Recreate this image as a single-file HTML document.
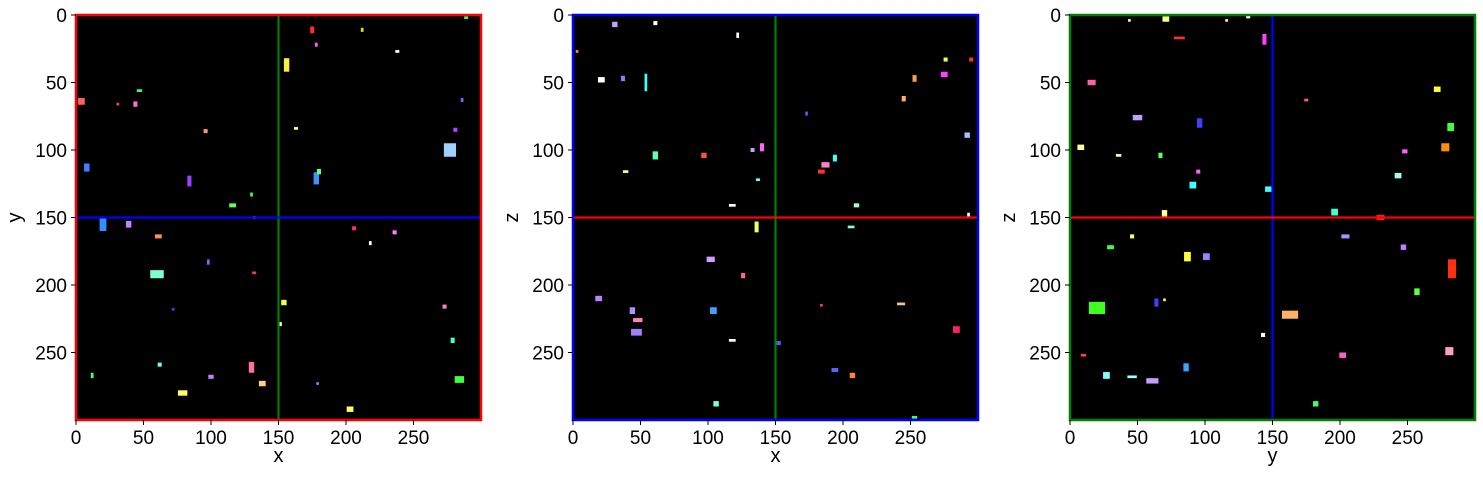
<!DOCTYPE html>
<html><head><meta charset="utf-8"><style>
html,body{margin:0;padding:0;background:#fff;width:1483px;height:477px;overflow:hidden}
svg{display:block;font-family:"Liberation Sans",sans-serif}
</style></head><body>
<svg id="fig" width="1483" height="477" viewBox="0 0 1483 477"></svg>
<script>
const ticks=[0,50,100,150,200,250];
const tickLabels=["0","50","100","150","200","250"];
const panelXLabels=["x","x","y"];
const panelYLabels=["y","z","z"];
const frameColors=["#ff0000","#0000ff","#008000"];
const vLineColors=["#008000","#008000","#0000ff"];
const hLineColors=["#0000ff","#ff0000","#ff0000"];
const crossV=[150,150,150];
const crossH=[150,150,150];
const p1X=[175,156,178,212,238,289,4,44,31,47,96,8,84,116,130,163,178,180,277,286,281,20,39,61,60,98,132,132,154,151,206,218,236,273,279,284,12,62,79,100,130,138,179,203,72];
const p1Y=[11,37,22,11,27,2,64,66,66,56,86,113,123,141,133,84,121,116,100,63,85,155,155,164,192,183,150,191,213,229,158,169,161,216,241,270,267,259,280,268,261,273,273,292,218];
const p1W=[3,4,2,2,3,3,5,3,2,4,3,4,3,5,2,3,4,3,9,2,3,5,4,5,10,2,2,3,4,3,3,2,3,3,3,7,2,3,7,4,4,5,2,5,2];
const p1H=[5,10,3,3,2,2,5,4,2,2,3,6,8,3,3,2,9,4,10,3,3,10,5,3,6,4,2,2,4,3,3,3,3,3,4,5,4,3,4,3,8,4,2,4,2];
const p1C=["#ff3030","#f5f040","#ff60ff","#e0e000","#ffffff","#30ff60","#ff6060","#ff70c0","#ff4060","#40ff60","#ff9080","#4080ff","#a040ff","#60ff60","#40ff40","#ffff80","#4090ff","#60ff80","#a0d0ff","#8060ff","#c040ff","#3090ff","#c080ff","#ff9060","#80ffd0","#8060ff","#ff60a0","#ff3060","#f0ff40","#ffffa0","#ff3060","#ffffff","#ff80ff","#ff80c0","#40ffd0","#40ff40","#40ff80","#60ffff","#ffff60","#c080ff","#ff70a0","#ffd080","#8080ff","#ffff60","#4040ff"];
const p2X=[31,61,3,21,37,54,122,253,275,295,276,245,173,292,61,97,133,140,187,194,184,137,39,118,210,293,136,206,102,126,19,44,48,47,104,118,152,184,243,284,194,207,106,253];
const p2Y=[7,6,27,48,47,50,15,47,44,33,33,62,73,89,104,104,100,98,111,106,116,122,116,141,141,148,157,157,181,193,210,219,226,235,219,241,243,215,214,233,263,267,288,298];
const p2W=[4,3,2,5,3,2,2,3,5,3,3,3,2,4,4,4,3,3,6,3,5,3,4,5,4,2,3,5,6,3,5,4,7,8,5,5,4,2,6,5,5,4,4,4];
const p2H=[4,3,2,4,4,13,4,5,4,3,3,4,3,4,6,4,3,6,4,5,3,2,2,2,3,3,8,2,4,4,4,5,3,5,5,2,3,2,2,5,3,4,4,2];
const p2C=["#c0a0ff","#ffffff","#ff8080","#ffffff","#8080ff","#40ffff","#ffffff","#ffa040","#ff40ff","#ff3030","#f0ff40","#ffb060","#4060ff","#a0c0ff","#60ffb0","#ff5040","#c0a0ff","#ff60ff","#ff80c0","#40ffff","#ff3030","#60ffff","#ffff80","#ffffff","#a0ffd0","#ffffff","#f0ff60","#80ffd0","#d0a0ff","#ff60a0","#c080ff","#b090ff","#ff80c0","#a080ff","#40a0ff","#ffffff","#4060ff","#ff4040","#ffc080","#ff2060","#6060ff","#ff8040","#80ffd0","#40ff60"];
const p3X=[44,71,81,116,132,144,16,50,96,175,272,282,278,248,243,8,36,67,91,95,70,147,196,230,30,46,87,101,204,247,283,257,20,64,70,163,143,46,27,61,86,202,281,182,10];
const p3Y=[4,3,17,4,1,18,50,76,80,63,55,83,98,101,119,98,104,104,126,116,147,129,146,150,172,164,179,179,164,172,188,205,217,213,211,222,237,268,267,271,261,252,249,288,252];
const p3W=[2,5,8,2,3,3,6,7,4,3,5,5,6,4,5,5,4,3,5,3,4,5,5,6,5,3,5,5,6,4,6,4,12,3,2,12,3,7,5,9,4,5,6,4,4];
const p3H=[2,4,2,2,3,8,4,4,7,2,4,6,6,3,4,4,2,4,5,3,5,4,5,4,3,3,7,5,3,4,14,5,9,6,2,6,3,2,5,4,6,4,6,4,2];
const p3C=["#ffff60","#ffff80","#ff3030","#ffff60","#ffffff","#ff40ff","#ff60a0","#c0a0ff","#4040ff","#ff6060","#ffff40","#40ff40","#ff9000","#ff60ff","#a0fff0","#ffffa0","#ffffa0","#60ff60","#40ffff","#ff60ff","#ffffa0","#40ffff","#40ffd0","#ff2020","#40ff40","#ffff60","#ffff40","#a080ff","#b090ff","#c080ff","#ff3010","#60ff40","#40ff20","#4040ff","#ffff40","#ffb060","#ffffff","#a0ffff","#80ffff","#c0a0ff","#40a0ff","#ff60d0","#ffa0c0","#40ff60","#ff4040"];
const panels=[[p1X,p1Y,p1W,p1H,p1C],[p2X,p2Y,p2W,p2H,p2C],[p3X,p3Y,p3W,p3H,p3C]];
const lefts=[76,573,1070], TOP0=15, SIZE=405, NMAX=300;
const NS="http://www.w3.org/2000/svg", svgEl=document.getElementById('fig');
function mk(t,a,p){const e=document.createElementNS(NS,t);for(const k in a)e.setAttribute(k,a[k]);(p||svgEl).appendChild(e);return e;}
panels.forEach((P,i)=>{
  const L=lefts[i];
  const sx=v=>L+v*SIZE/NMAX, sy=v=>TOP0+v*SIZE/NMAX;
  const g=mk('g',{});
  
  
  const bg=mk('rect',{x:L,y:TOP0,width:SIZE,height:SIZE,fill:'#000'},g);
  
  
  for(let j=0;j<P[0].length;j++){
    const r=mk('rect',{x:sx(P[0][j]-P[2][j]/2),y:sy(P[1][j]-P[3][j]/2),width:P[2][j]*SIZE/NMAX,height:P[3][j]*SIZE/NMAX,fill:P[4][j]},g);
    
    
  }
  const v=mk('line',{x1:sx(crossV[i]),x2:sx(crossV[i]),y1:TOP0,y2:TOP0+SIZE,stroke:vLineColors[i],'stroke-width':2.2},g);
  
  
  const h=mk('line',{x1:L,x2:L+SIZE,y1:sy(crossH[i]),y2:sy(crossH[i]),stroke:hLineColors[i],'stroke-width':2.2},g);
  
  
  const f=mk('rect',{x:L,y:TOP0,width:SIZE,height:SIZE,fill:'none',stroke:frameColors[i],'stroke-width':2.5},g);
  
  
  ticks.forEach((t,k)=>{
    mk('line',{x1:sx(t),x2:sx(t),y1:TOP0+SIZE,y2:TOP0+SIZE+5,stroke:'#000'},g);
    const tx=mk('text',{x:sx(t),y:TOP0+SIZE+24,'font-size':19,'text-anchor':'middle'},g);
    tx.textContent=tickLabels[k];
    
    
    mk('line',{x1:L-5,x2:L,y1:sy(t),y2:sy(t),stroke:'#000'},g);
    const ty=mk('text',{x:L-9,y:sy(t)+7,'font-size':19,'text-anchor':'end'},g);
    ty.textContent=tickLabels[k];
    
    
  });
  const xl=mk('text',{x:L+SIZE/2,y:462,'font-size':20,'text-anchor':'middle'},g);
  xl.textContent=panelXLabels[i];
  
  
  const yl=mk('text',{x:0,y:0,'font-size':20,'text-anchor':'middle',transform:'translate('+(L-55)+','+(TOP0+SIZE/2)+') rotate(-90)'},g);
  yl.textContent=panelYLabels[i];
  
  
});
</script>
</body></html>
